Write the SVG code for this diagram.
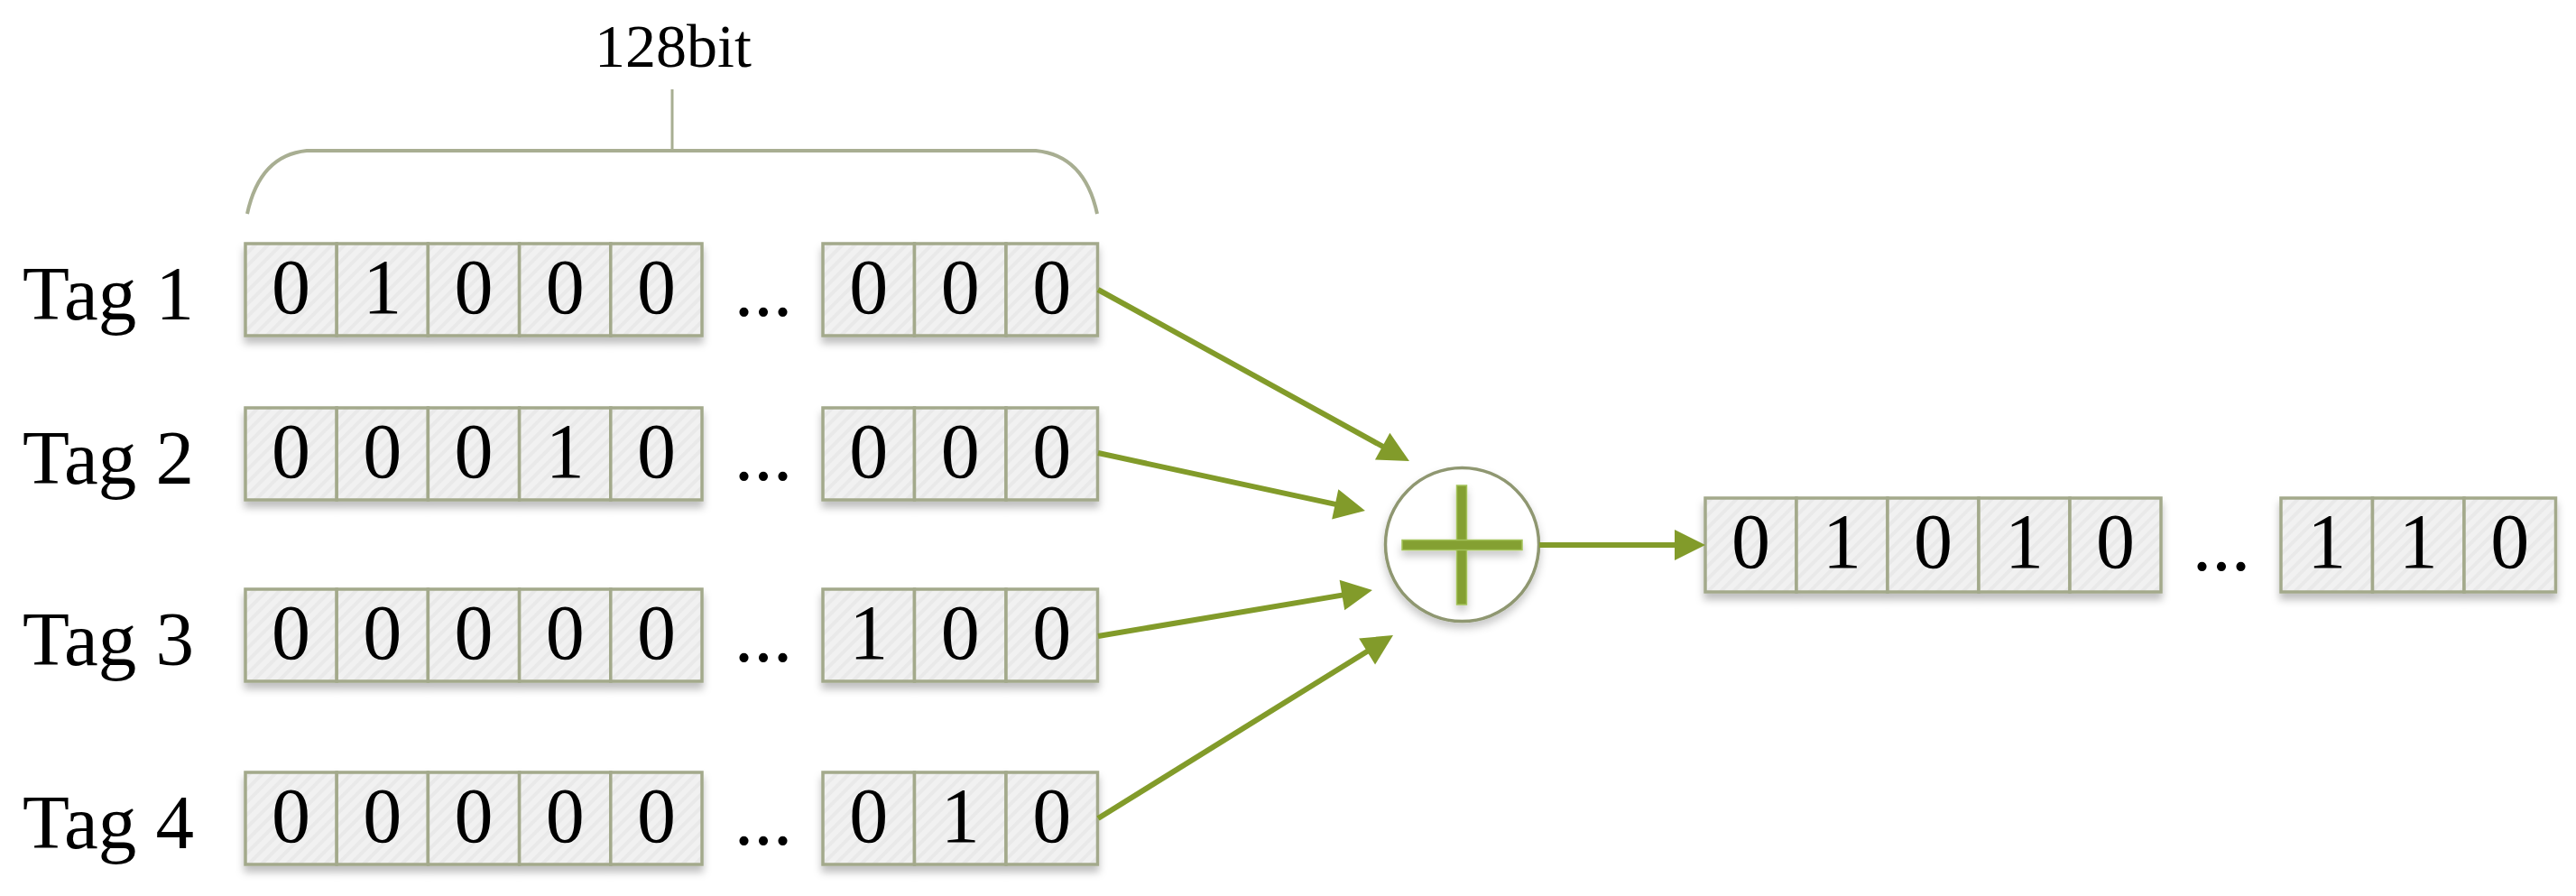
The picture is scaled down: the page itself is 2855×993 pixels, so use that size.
<svg xmlns="http://www.w3.org/2000/svg" width="2855" height="993" viewBox="0 0 2855 993">
<style>
  .cell { fill: url(#stripes); stroke: #a3a98b; stroke-width: 3.5; }
  .digit { font-family: "Liberation Serif", "Times New Roman", serif; font-size: 86px; fill: #000; text-anchor: middle; }
  .tag { font-family: "Liberation Serif", "Times New Roman", serif; font-size: 85px; fill: #000; }
  .dots { font-family: "Liberation Serif", "Times New Roman", serif; font-size: 86px; fill: #000; text-anchor: middle; }
  .conn { stroke: #829b2a; stroke-width: 6; fill: none; marker-end: url(#arrow); }
  .bracket { stroke: #a8ae92; stroke-width: 4; fill: none; }
</style>
<defs>
  <pattern id="stripes" patternUnits="userSpaceOnUse" width="10" height="10" patternTransform="rotate(45)">
    <rect width="10" height="10" fill="#f1f1f1"/>
    <rect x="0" y="0" width="4" height="10" fill="#e9e9e9"/>
  </pattern>
  <filter id="shadow" x="-10%" y="-20%" width="120%" height="160%">
    <feDropShadow dx="0" dy="7" stdDeviation="4" flood-color="#000" flood-opacity="0.25"/>
  </filter>
  <filter id="soft" x="-20%" y="-20%" width="140%" height="140%">
    <feDropShadow dx="0" dy="6" stdDeviation="5" flood-color="#000" flood-opacity="0.22"/>
  </filter>
  <marker id="arrow" markerUnits="userSpaceOnUse" markerWidth="34" markerHeight="34" refX="24" refY="17" orient="auto" overflow="visible">
    <path d="M0,0 L34,17 L0,34 Z" fill="#829b2a"/>
  </marker>
</defs>
<rect width="2855" height="993" fill="#ffffff"/>

<g id="bracket">
  <text x="746" y="74" font-family="Liberation Serif, Times New Roman, serif" font-size="68" text-anchor="middle">128bit</text>
  <line x1="745" y1="99" x2="745" y2="167" stroke="#a8ae92" stroke-width="3"/>
  <path class="bracket" d="M274,237 Q288,172 340,167 L1148,167 Q1202,172 1216,237"/>
</g>

<g id="tag1">
  <text class="tag" x="25" y="354">Tag 1</text>
  <g filter="url(#shadow)">
    <rect class="cell" x="272" y="270" width="101.2" height="102"/>
    <rect class="cell" x="373.2" y="270" width="101.2" height="102"/>
    <rect class="cell" x="474.4" y="270" width="101.2" height="102"/>
    <rect class="cell" x="575.6" y="270" width="101.2" height="102"/>
    <rect class="cell" x="676.8" y="270" width="101.2" height="102"/>
    <rect class="cell" x="912" y="270" width="101.5" height="102"/>
    <rect class="cell" x="1013.5" y="270" width="101.5" height="102"/>
    <rect class="cell" x="1115" y="270" width="101.5" height="102"/>
  </g>
  <text class="digit" x="322.6" y="347">0</text>
  <text class="digit" x="423.8" y="347">1</text>
  <text class="digit" x="525" y="347">0</text>
  <text class="digit" x="626.2" y="347">0</text>
  <text class="digit" x="727.4" y="347">0</text>
  <text class="dots" x="846" y="350">...</text>
  <text class="digit" x="962.75" y="347">0</text>
  <text class="digit" x="1064.25" y="347">0</text>
  <text class="digit" x="1165.75" y="347">0</text>
</g>

<g id="tag2">
  <text class="tag" x="25" y="536">Tag 2</text>
  <g filter="url(#shadow)">
    <rect class="cell" x="272" y="452" width="101.2" height="102"/>
    <rect class="cell" x="373.2" y="452" width="101.2" height="102"/>
    <rect class="cell" x="474.4" y="452" width="101.2" height="102"/>
    <rect class="cell" x="575.6" y="452" width="101.2" height="102"/>
    <rect class="cell" x="676.8" y="452" width="101.2" height="102"/>
    <rect class="cell" x="912" y="452" width="101.5" height="102"/>
    <rect class="cell" x="1013.5" y="452" width="101.5" height="102"/>
    <rect class="cell" x="1115" y="452" width="101.5" height="102"/>
  </g>
  <text class="digit" x="322.6" y="529">0</text>
  <text class="digit" x="423.8" y="529">0</text>
  <text class="digit" x="525" y="529">0</text>
  <text class="digit" x="626.2" y="529">1</text>
  <text class="digit" x="727.4" y="529">0</text>
  <text class="dots" x="846" y="532">...</text>
  <text class="digit" x="962.75" y="529">0</text>
  <text class="digit" x="1064.25" y="529">0</text>
  <text class="digit" x="1165.75" y="529">0</text>
</g>

<g id="tag3">
  <text class="tag" x="25" y="737">Tag 3</text>
  <g filter="url(#shadow)">
    <rect class="cell" x="272" y="653" width="101.2" height="102"/>
    <rect class="cell" x="373.2" y="653" width="101.2" height="102"/>
    <rect class="cell" x="474.4" y="653" width="101.2" height="102"/>
    <rect class="cell" x="575.6" y="653" width="101.2" height="102"/>
    <rect class="cell" x="676.8" y="653" width="101.2" height="102"/>
    <rect class="cell" x="912" y="653" width="101.5" height="102"/>
    <rect class="cell" x="1013.5" y="653" width="101.5" height="102"/>
    <rect class="cell" x="1115" y="653" width="101.5" height="102"/>
  </g>
  <text class="digit" x="322.6" y="730">0</text>
  <text class="digit" x="423.8" y="730">0</text>
  <text class="digit" x="525" y="730">0</text>
  <text class="digit" x="626.2" y="730">0</text>
  <text class="digit" x="727.4" y="730">0</text>
  <text class="dots" x="846" y="733">...</text>
  <text class="digit" x="962.75" y="730">1</text>
  <text class="digit" x="1064.25" y="730">0</text>
  <text class="digit" x="1165.75" y="730">0</text>
</g>

<g id="tag4">
  <text class="tag" x="25" y="940">Tag 4</text>
  <g filter="url(#shadow)">
    <rect class="cell" x="272" y="856" width="101.2" height="102"/>
    <rect class="cell" x="373.2" y="856" width="101.2" height="102"/>
    <rect class="cell" x="474.4" y="856" width="101.2" height="102"/>
    <rect class="cell" x="575.6" y="856" width="101.2" height="102"/>
    <rect class="cell" x="676.8" y="856" width="101.2" height="102"/>
    <rect class="cell" x="912" y="856" width="101.5" height="102"/>
    <rect class="cell" x="1013.5" y="856" width="101.5" height="102"/>
    <rect class="cell" x="1115" y="856" width="101.5" height="102"/>
  </g>
  <text class="digit" x="322.6" y="933">0</text>
  <text class="digit" x="423.8" y="933">0</text>
  <text class="digit" x="525" y="933">0</text>
  <text class="digit" x="626.2" y="933">0</text>
  <text class="digit" x="727.4" y="933">0</text>
  <text class="dots" x="846" y="936">...</text>
  <text class="digit" x="962.75" y="933">0</text>
  <text class="digit" x="1064.25" y="933">1</text>
  <text class="digit" x="1165.75" y="933">0</text>
</g>

<g id="xor">
  <circle cx="1620.5" cy="603.5" r="85" fill="#ffffff" stroke="#8f9771" stroke-width="3.5" filter="url(#soft)"/>
  <g filter="url(#soft)">
    <rect x="1614.5" y="538" width="11" height="132" fill="#84a030" stroke="#a3c25a" stroke-width="1.5"/>
    <rect x="1554" y="598.5" width="133" height="11" fill="#84a030" stroke="#a3c25a" stroke-width="1.5"/>
  </g>
</g>

<g id="output">
  <g filter="url(#shadow)">
    <rect class="cell" x="1890" y="552" width="101" height="104"/>
    <rect class="cell" x="1991" y="552" width="101" height="104"/>
    <rect class="cell" x="2092" y="552" width="101" height="104"/>
    <rect class="cell" x="2193" y="552" width="101" height="104"/>
    <rect class="cell" x="2294" y="552" width="101" height="104"/>
    <rect class="cell" x="2528" y="552" width="101.5" height="104"/>
    <rect class="cell" x="2629.5" y="552" width="101.5" height="104"/>
    <rect class="cell" x="2731" y="552" width="101.5" height="104"/>
  </g>
  <text class="digit" x="1940.5" y="629">0</text>
  <text class="digit" x="2041.5" y="629">1</text>
  <text class="digit" x="2142.5" y="629">0</text>
  <text class="digit" x="2243.5" y="629">1</text>
  <text class="digit" x="2344.5" y="629">0</text>
  <text class="dots" x="2462" y="632">...</text>
  <text class="digit" x="2578.75" y="629">1</text>
  <text class="digit" x="2680.25" y="629">1</text>
  <text class="digit" x="2781.75" y="629">0</text>
</g>

<g id="connectors">
  <line class="conn" x1="1217" y1="321" x2="1553.2" y2="506.2"/>
  <line class="conn" x1="1217" y1="502" x2="1503.2" y2="563.9"/>
  <line class="conn" x1="1217" y1="705" x2="1511.1" y2="655.6"/>
  <line class="conn" x1="1217" y1="907" x2="1535.5" y2="709.3"/>
  <line class="conn" x1="1706" y1="604" x2="1880" y2="604"/>
</g>
</svg>
